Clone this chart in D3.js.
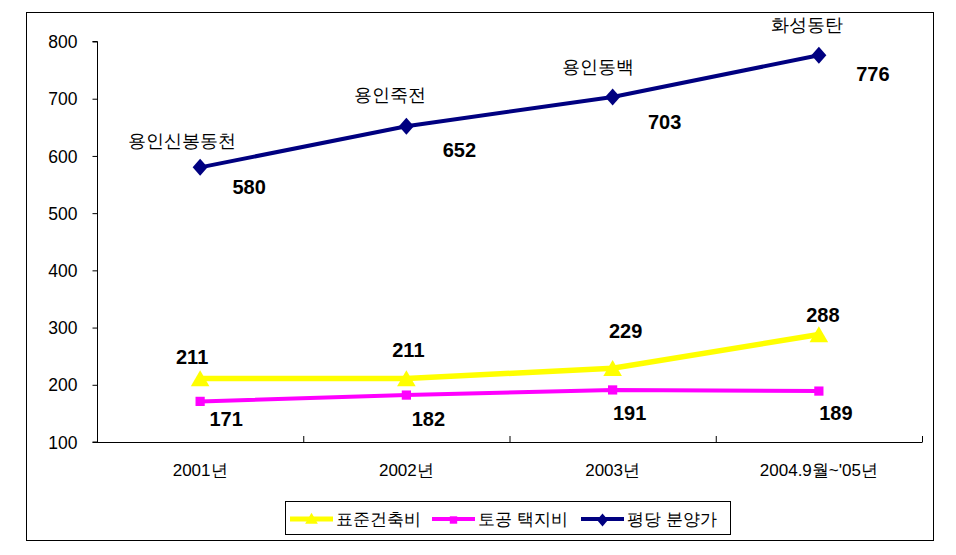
<!DOCTYPE html>
<html><head><meta charset="utf-8">
<script src="https://cdn.jsdelivr.net/npm/d3@7"></script>
<style>body{margin:0;background:#fff}svg{display:block}text{font-family:Arial,"Liberation Sans",sans-serif}</style>
</head><body><svg id="c" width="956" height="555"></svg>
<script>
const categories = ["2001년", "2002년", "2003년", "2004.9월~'05년"];
const seriesNames = ["표준건축비", "토공 택지비", "평당 분양가"];
const stdCost = [211, 211, 229, 288];
const landCost = [171, 182, 191, 189];
const salePrice = [580, 652, 703, 776];
const siteNames = ["용인신봉동천", "용인죽전", "용인동백", "화성동탄"];
const yTicks = [100, 200, 300, 400, 500, 600, 700, 800];

const svg = d3.select("#c");
const koFont = "'Noto Sans CJK KR', 'Noto Sans', sans-serif";
const numFont = "Arial, 'Liberation Sans', sans-serif";
svg.append("rect").attr("x", 26.5).attr("y", 12.5).attr("width", 907).attr("height", 528)
  .attr("fill", "#fff").attr("stroke", "#000").attr("stroke-width", 1);

const x = d3.scaleBand().domain(categories).range([97, 922]).padding(0);
const y = d3.scaleLinear().domain([100, 800]).range([442, 41.5]);
const cx = d => x(d) + x.bandwidth() / 2;

// y axis
const ya = svg.append("g").attr("transform", "translate(97.5,0)")
  .call(d3.axisLeft(y).tickValues(yTicks).tickSize(5).tickPadding(15).tickFormat(d3.format("d")));
ya.select(".domain").attr("stroke", "#000").attr("d", "M-5,41.5H0V442H-5");
ya.selectAll("text").attr("font-size", 17.5).attr("font-family", numFont).attr("fill", "#000").attr("dy", "0.35em");

// x axis
const xa = svg.append("g").attr("transform", "translate(0,442)");
xa.append("line").attr("x1", 97).attr("x2", 922).attr("y1", 0.5).attr("y2", 0.5).attr("stroke", "#000");
const bounds = categories.map(c => x(c)).concat([922]);
xa.selectAll("line.t").data(bounds).join("line").attr("class", "t")
  .attr("x1", d => d + 0.5).attr("x2", d => d + 0.5).attr("y1", -6).attr("y2", 0.5).attr("stroke", "#000");
xa.selectAll("text").data(categories).join("text")
  .attr("x", d => cx(d)).attr("y", 34).attr("text-anchor", "middle")
  .attr("font-size", 17).attr("font-family", "Arial, 'Noto Sans CJK KR', sans-serif").text(d => d);

const line = d3.line().x((d, i) => cx(categories[i])).y(d => y(d));

// lines
svg.append("path").datum(stdCost).attr("d", line).attr("fill", "none").attr("stroke", "#FFFF00").attr("stroke-width", 5.5);
svg.append("path").datum(landCost).attr("d", line).attr("fill", "none").attr("stroke", "#FF00FF").attr("stroke-width", 4);
svg.append("path").datum(salePrice).attr("d", line).attr("fill", "none").attr("stroke", "#000080").attr("stroke-width", 4);

// markers
const tri = d3.symbol().type(d3.symbolTriangle).size(150);
const sq = d3.symbol().type(d3.symbolSquare).size(85);
const dia = "M0,-8.5L7.5,0L0,8.5L-7.5,0Z";
const triS = d3.symbol().type(d3.symbolTriangle).size(70);
const sqS = d3.symbol().type(d3.symbolSquare).size(55);
const diaS = "M0,-6.5L5.5,0L0,6.5L-5.5,0Z";
svg.selectAll("path.tri").data(stdCost).join("path").attr("class", "tri").attr("d", tri)
  .attr("transform", (d, i) => `translate(${cx(categories[i])},${y(d) + 2.5})`).attr("fill", "#FFFF00");
svg.selectAll("path.sq").data(landCost).join("path").attr("class", "sq").attr("d", sq)
  .attr("transform", (d, i) => `translate(${cx(categories[i])},${y(d)})`).attr("fill", "#FF00FF");
svg.selectAll("path.dia").data(salePrice).join("path").attr("class", "dia").attr("d", dia)
  .attr("transform", (d, i) => `translate(${cx(categories[i])},${y(d)})`).attr("fill", "#000080");

// value labels (offsets relative to point, baseline)
const offStd = [[-8, -14], [2, -21], [13, -30], [4, -12]];
const offLand = [[26, 25], [22, 31], [17, 30], [17, 29]];
const offSale = [[49, 27], [53, 31], [52, 32], [54, 26]];
function labels(data, off, cls) {
  svg.selectAll("text." + cls).data(data).join("text").attr("class", cls)
    .attr("x", (d, i) => cx(categories[i]) + off[i][0])
    .attr("y", (d, i) => y(d) + off[i][1])
    .attr("text-anchor", "middle").attr("font-size", 20).attr("font-weight", "bold")
    .attr("font-family", numFont).text(d => d);
}
labels(stdCost, offStd, "ls");
labels(landCost, offLand, "ll");
labels(salePrice, offSale, "lp");

// site names
const offSite = [[-18, -20], [-16, -25], [-15, -24], [-12, -24]];
svg.selectAll("text.site").data(siteNames).join("text").attr("class", "site")
  .attr("x", (d, i) => cx(categories[i]) + offSite[i][0])
  .attr("y", (d, i) => y(salePrice[i]) + offSite[i][1])
  .attr("text-anchor", "middle").attr("font-size", 17.5).attr("font-family", koFont).text(d => d);

// legend
const lg = svg.append("g");
lg.append("rect").attr("x", 285.5).attr("y", 501.5).attr("width", 445).attr("height", 33).attr("fill", "#fff").attr("stroke", "#000");
const legItems = [
  {name: seriesNames[0], color: "#FFFF00", sw: 5, sym: triS(), x0: 290},
  {name: seriesNames[1], color: "#FF00FF", sw: 4, sym: sqS(), x0: 432},
  {name: seriesNames[2], color: "#000080", sw: 4, sym: diaS, x0: 581}
];
legItems.forEach(it => {
  lg.append("line").attr("x1", it.x0).attr("x2", it.x0 + 43).attr("y1", 519).attr("y2", 519).attr("stroke", it.color).attr("stroke-width", it.sw);
  lg.append("path").attr("d", it.sym).attr("transform", `translate(${it.x0 + 21.5},${519 + 1})`).attr("fill", it.color);
  lg.append("text").attr("x", it.x0 + 46).attr("y", 525).attr("font-size", 17).attr("font-family", koFont).text(it.name);
});
</script></body></html>
